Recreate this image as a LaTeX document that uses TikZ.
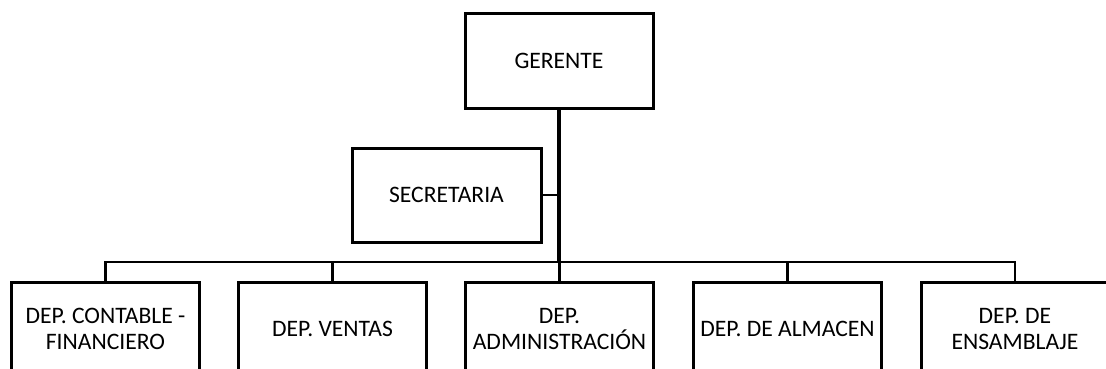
\documentclass[tikz,border=0pt]{standalone}
\usepackage{fontspec}
\setmainfont{Carlito}
\begin{document}
\begin{tikzpicture}[x=1pt,y=-1pt,
  box/.style={draw=black,line width=3pt,minimum width=188pt,minimum height=94pt,
    inner sep=0pt,align=center,font=\fontsize{23.6}{26}\selectfont,fill=white},
  link/.style={draw=black,line width=2.5pt},
  trunk/.style={draw=black,line width=4pt}]
\useasboundingbox (0,0) rectangle (1106,369);
\clip (0,0) rectangle (1106,369);
\node[box] (ger) at (559,61) {GERENTE};
\node[box,minimum width=189pt] (sec) at (446.5,195) {SECRETARIA};
\node[box] (d1) at (105.5,329) {DEP. CONTABLE -\\FINANCIERO};
\node[box] (d2) at (332.5,329) {DEP. VENTAS};
\node[box] (d3) at (559.5,329) {DEP.\\ADMINISTRACIÓN};
\node[box] (d4) at (787.5,329) {DEP. DE ALMACEN};
\node[box] (d5) at (1015,329) {DEP. DE\\ENSAMBLAJE};
\coordinate (bus) at (559,262);
\draw[link] (d1.north) |- (bus) -| (d5.north);
\draw[link] (d2.north) -- (d2.north |- bus);
\draw[link] (d3.north) -- (d3.north |- bus);
\draw[link] (d4.north) -- (d4.north |- bus);
\draw[link,line width=2pt] (sec.east) -- (sec.east -| ger.south);
\draw[trunk] (ger.south) -- (bus);
\end{tikzpicture}
\end{document}
